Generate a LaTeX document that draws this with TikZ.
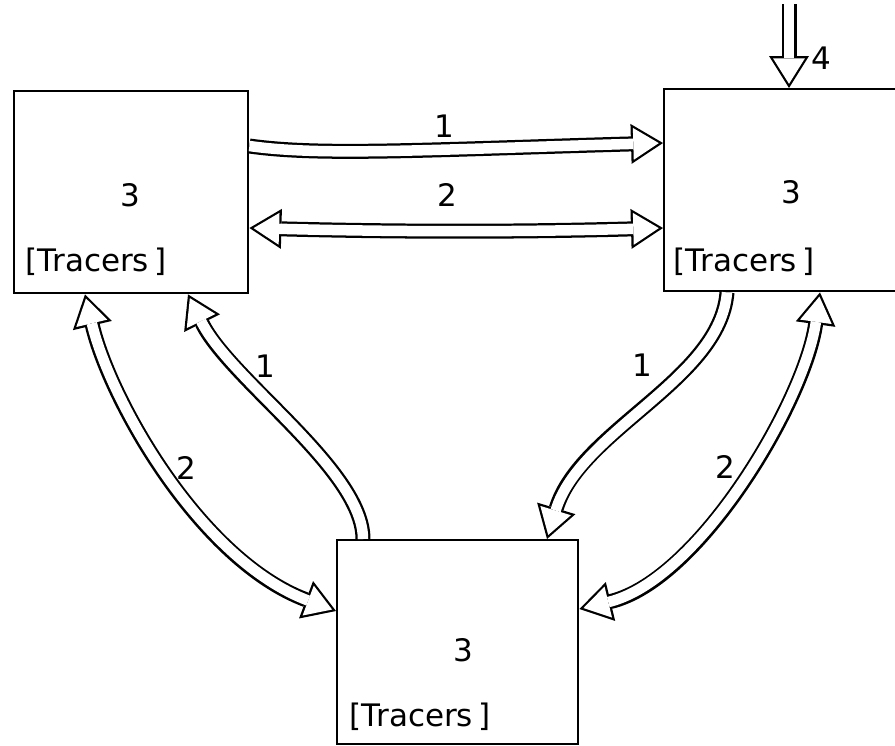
\documentclass[tikz,border=0pt]{standalone}
\usepackage{fontspec}
\setmainfont{DejaVu Sans}
\usetikzlibrary{arrows.meta,calc}
\tikzset{
  headout/.tip={Triangle[length=32pt,width=40pt,line width=0pt]},
  headin/.tip={Triangle[length=25.5pt,width=31.9pt,line width=0pt]},
}
\begin{document}
\begin{tikzpicture}[x=1pt,y=-1pt,
  box/.style={draw, line width=2.4pt, minimum width=234pt, minimum height=202pt, anchor=north west, inner sep=0pt},
  flow/.style={draw=white, line width=10.5pt, shorten >=4.2pt, -{headin},
     preaction={draw=black, line width=15pt, shorten >=0pt, -{headout}}},
  biflow/.style={draw=white, line width=10.5pt, shorten >=4.2pt, shorten <=4.2pt, {headin}-{headin},
     preaction={draw=black, line width=15pt, shorten >=0pt, shorten <=0pt, {headout}-{headout}}},
  lbl/.style={font=\fontsize{31}{36}\selectfont, inner sep=0pt}]
\useasboundingbox (0,0) rectangle (895,745);
\node[box] (A) at (13,90) {};
\node[box, minimum width=240pt] (B) at (663,88) {};
\node[box, minimum width=241pt, minimum height=204pt] (C) at (336,539) {};
% box texts
\node[lbl] (a3) at (130,195) {3};
\node[lbl] (at) at (96,262) {[Tracers\,]};
\node[lbl] (b3) at (791,192) {3};
\node[lbl] (bt) at (744,262) {[Tracers\,]};
\node[lbl] (c3) at (463,650) {3};
\node[lbl] (ct) at (420,717) {[Tracers\,]};
% top connectors
\draw[flow] ($(A.north east)+(0,56)$) .. controls (320,156) and (420,150) .. ($(B.north west)+(0,55)$);
\draw[biflow] ($(A.north east)+(0,138)$) .. controls (400,232) and (520,232) .. ($(B.north west)+(0,140)$);
\node[lbl] (l1) at (444,126) {1};
\node[lbl] (l2) at (447,195) {2};
% input 4
\coordinate (in4) at (789,4);
\draw[flow] (in4) -- ($(B.north west)+(126,0)$);
\node[lbl] (l4) at (821,58) {4};
% left side connectors
\draw[biflow] ($(A.south west)+(72,0)$) .. controls (110,400) and (200,560) .. ($(C.north west)+(0,72)$);
\draw[flow] ($(C.north west)+(27,0)$) .. controls (363,470) and (230,380) .. ($(A.south west)+(175,0)$);
\node[lbl] (l5) at (186,468) {2};
\node[lbl] (l6) at (265,366) {1};
% right side connectors
\draw[flow] ($(B.south west)+(64,0)$) .. controls (720,380) and (580,430) .. ($(C.north west)+(211,0)$);
\draw[biflow] ($(B.south west)+(157,0)$) .. controls (805,400) and (700,580) .. ($(C.north east)+(0,70)$);
\node[lbl] (l7) at (642,365) {1};
\node[lbl] (l8) at (725,467) {2};
\end{tikzpicture}
\end{document}
